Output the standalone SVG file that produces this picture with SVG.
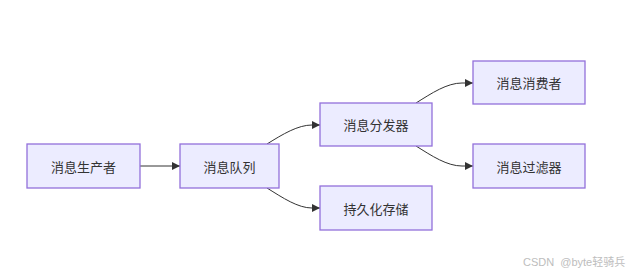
<svg xmlns="http://www.w3.org/2000/svg" width="627" height="275" viewBox="0 0 627 275">
<style>
.node rect{fill:#ECECFF;stroke:#9370DB;stroke-width:1.3}
.node text{font-family:"Noto Sans CJK SC","Liberation Sans",sans-serif;font-size:13px;fill:#333;text-anchor:middle;dominant-baseline:central}
.edge{fill:none;stroke:#333;stroke-width:1}
.wm{font-family:"Liberation Sans","Noto Sans CJK SC",sans-serif;font-size:11px;fill:#bdbdbd}
</style>
<defs>
<marker id="arr" viewBox="0 0 10 10" refX="10" refY="5" markerWidth="8" markerHeight="8" markerUnits="userSpaceOnUse" orient="auto">
<path d="M0,0 L10,5 L0,10 z" fill="#333"/>
</marker>
</defs>
<rect width="627" height="275" fill="#fff"/>
<g id="connectors">
<path class="edge" d="M140,166 L180,166" marker-end="url(#arr)"/>
<path class="edge" d="M267,144 C283,134 298,125 312,125 L320,125" marker-end="url(#arr)"/>
<path class="edge" d="M267,188 C283,198 298,208 312,208 L320,208" marker-end="url(#arr)"/>
<path class="edge" d="M416,103 C432,93 447,83 462,83 L473,83" marker-end="url(#arr)"/>
<path class="edge" d="M416,146 C432,156 447,166 462,166 L473,166" marker-end="url(#arr)"/>
</g>
<g id="producer" class="node"><rect x="27" y="144" width="113" height="44"/><text x="83.5" y="166">消息生产者</text></g>
<g id="queue" class="node"><rect x="180" y="144" width="99" height="44"/><text x="229.5" y="166">消息队列</text></g>
<g id="dispatcher" class="node"><rect x="320" y="103" width="112" height="43"/><text x="376" y="124.5">消息分发器</text></g>
<g id="consumer" class="node"><rect x="473" y="61" width="112" height="43"/><text x="529" y="82.5">消息消费者</text></g>
<g id="filter" class="node"><rect x="473" y="144" width="112" height="44"/><text x="529" y="166">消息过滤器</text></g>
<g id="storage" class="node"><rect x="320" y="186" width="112" height="44"/><text x="376" y="208">持久化存储</text></g>
<text class="wm" x="523" y="266" xml:space="preserve">CSDN  @byte轻骑兵</text>
</svg>
